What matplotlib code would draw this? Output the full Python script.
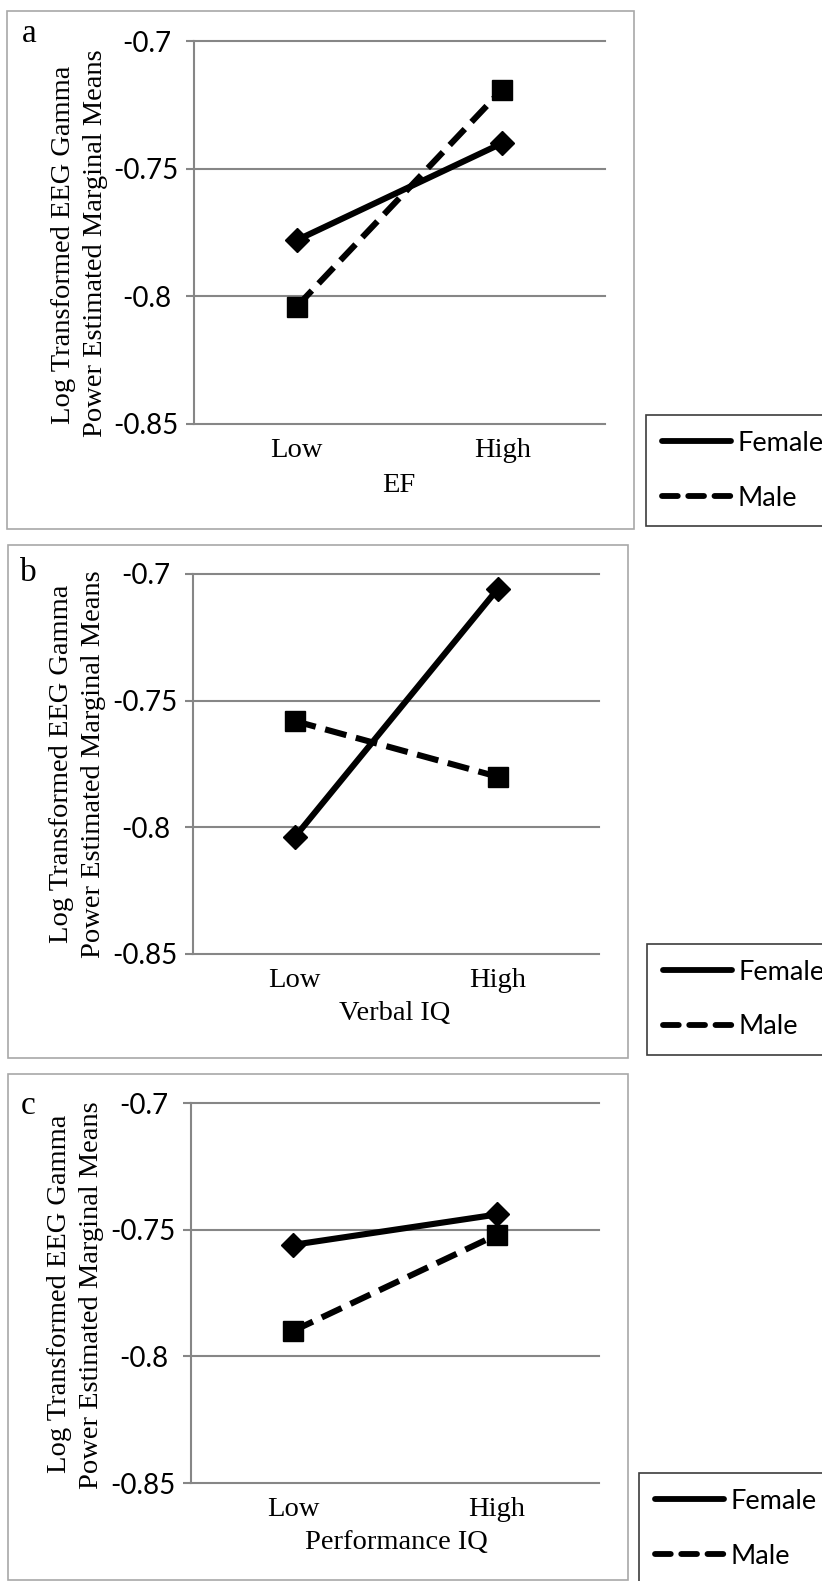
import matplotlib
matplotlib.use("Agg")
import matplotlib.pyplot as plt
from matplotlib.patches import Rectangle
from matplotlib.lines import Line2D

# ---------------- data ----------------
categories = ["Low", "High"]
panel_letters = ["a", "b", "c"]
x_titles = ["EF", "Verbal IQ", "Performance IQ"]
series_names = ["Female", "Male"]
female_ef = [-0.778, -0.740]
male_ef = [-0.804, -0.719]
female_verbal = [-0.804, -0.706]
male_verbal = [-0.758, -0.780]
female_perf = [-0.756, -0.744]
male_perf = [-0.790, -0.752]
y_ticks = [-0.85, -0.8, -0.75, -0.7]
y_tick_labels = ["-0.85", "-0.8", "-0.75", "-0.7"]
y_title_lines = ["Log Transformed EEG Gamma", "Power Estimated Marginal Means"]

female_series = [female_ef, female_verbal, female_perf]
male_series = [male_ef, male_verbal, male_perf]

# ---------------- layout (pixels) ----------------
W, H = 822, 1581
fig = plt.figure(figsize=(W / 100, H / 100), dpi=100)


def fx(px):
    return px / W


def fy(py):
    return 1 - py / H


layout = [
    dict(box=(7, 11, 634, 529), ax=(194, 41, 605, 424), letter=(22, 42),
         ylab=((63, 245), (95, 243)), xlab=(399, 492), leg=(646, 415)),
    dict(box=(8, 545, 628, 1058), ax=(193, 574, 599, 954), letter=(20, 581),
         ylab=((61, 764), (93, 764)), xlab=(395, 1020), leg=(647, 944)),
    dict(box=(8, 1074, 628, 1580), ax=(191, 1103, 599, 1483), letter=(21, 1114),
         ylab=((60, 1294), (92, 1295)), xlab=(396, 1549), leg=(639, 1473)),
]

SERIF = "Liberation Serif"
SANS = "Lato"
GRID = "#868686"
BOX = "#a8a8a8"
LW = 4.4

for i, L in enumerate(layout):
    # outer panel frame
    x0, y0, x1, y1 = L["box"]
    fig.add_artist(Rectangle((fx(x0), fy(y1)), (x1 - x0) / W, (y1 - y0) / H,
                             transform=fig.transFigure, fill=False,
                             edgecolor=BOX, lw=1.2))

    a0, b0, a1, b1 = L["ax"]
    ax = fig.add_axes([fx(a0), fy(b1), (a1 - a0) / W, (b1 - b0) / H])
    ax.set_facecolor("none")
    xs = list(range(len(categories)))

    for yv in y_ticks:
        ax.axhline(yv, color=GRID, lw=1.5, clip_on=False, zorder=0.5)

    ax.plot(xs, female_series[i], color="black", lw=LW, marker="D", ms=12.5,
            solid_capstyle="butt", zorder=3, clip_on=False)
    ax.plot(xs, male_series[i], color="black", lw=LW, ls=(0, (3.6, 1.6)),
            dash_capstyle="butt", marker="s", ms=15, zorder=3, clip_on=False)

    ax.set_xlim(-0.5, 1.5)
    ax.set_ylim(min(y_ticks), max(y_ticks))
    for s in ["top", "right", "bottom"]:
        ax.spines[s].set_visible(False)
    ax.spines["left"].set_color(GRID)
    ax.spines["left"].set_linewidth(1.5)

    ax.set_yticks(y_ticks)
    ax.set_yticklabels(y_tick_labels, fontsize=20, family=SANS)
    ax.tick_params(axis="y", length=5.8, width=1.5, color=GRID, pad=28.5)
    for t in ax.get_yticklabels():
        t.set_horizontalalignment("center")

    ax.set_xticks(xs)
    ax.set_xticklabels(categories, fontsize=20.5, family=SERIF)
    ax.tick_params(axis="x", length=0, pad=10)

    # panel letter
    fig.text(fx(L["letter"][0]), fy(L["letter"][1]), panel_letters[i],
             fontsize=24, family=SERIF, ha="left", va="baseline")
    # y title (two lines)
    for (px, py), line in zip(L["ylab"], y_title_lines):
        fig.text(fx(px), fy(py), line, rotation=90, fontsize=20.5, family=SERIF,
                 ha="center", va="center")
    # x title
    fig.text(fx(L["xlab"][0]), fy(L["xlab"][1]), x_titles[i], fontsize=20.5,
             family=SERIF, ha="center", va="baseline")

    handles = [
        Line2D([], [], color="black", lw=4.2, solid_capstyle="round"),
        Line2D([], [], color="black", lw=4.2, ls=(0, (2.7, 1.8)),
               dash_capstyle="round"),
    ]
    leg = ax.legend(handles, series_names, loc="upper left",
                    bbox_to_anchor=(fx(L["leg"][0]), fy(L["leg"][1])),
                    bbox_transform=fig.transFigure, borderaxespad=0,
                    borderpad=0.58, labelspacing=1.1, handlelength=2.55,
                    handletextpad=0.26, fancybox=False, framealpha=1,
                    prop={"family": SANS, "size": 19.5})
    leg.get_frame().set_edgecolor("#3c3c3c")
    leg.get_frame().set_linewidth(1.2)

fig.savefig("out.png", dpi=100)
